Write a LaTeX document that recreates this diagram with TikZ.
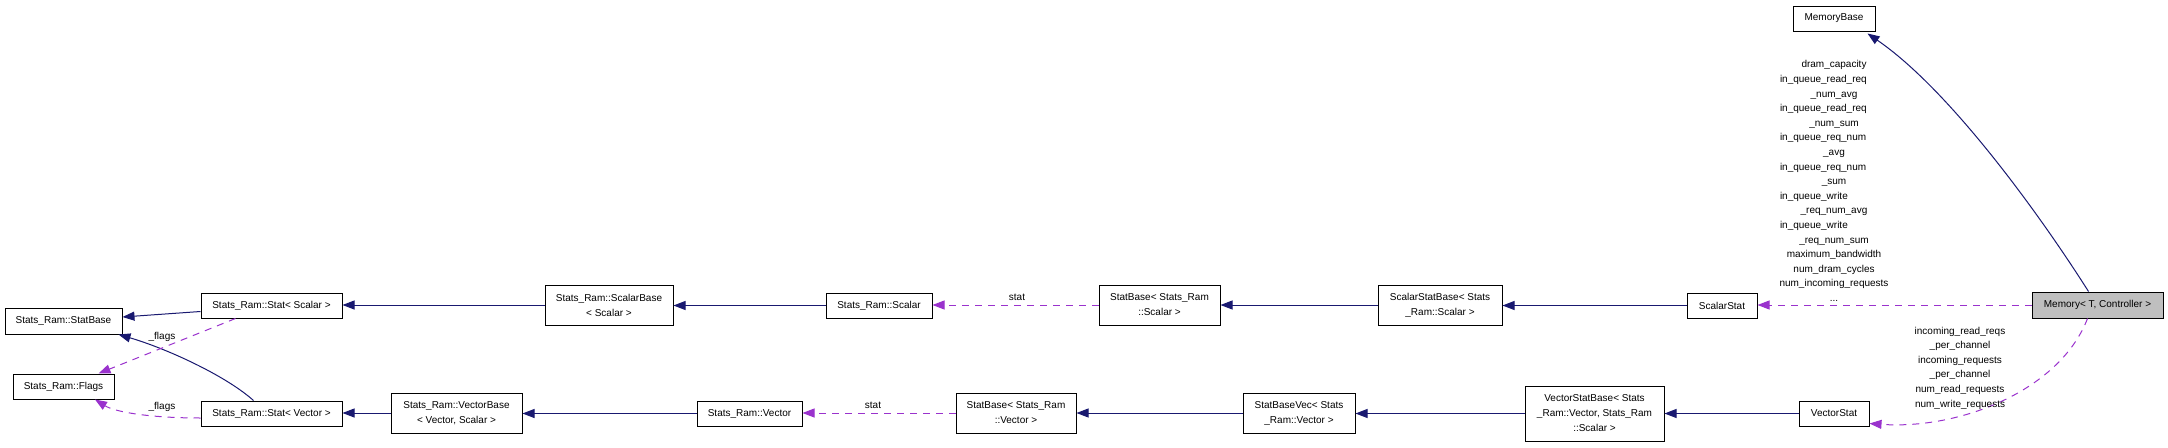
\documentclass[tikz,border=0pt]{standalone}
\usepackage{fontspec}
\setmainfont{Liberation Sans}
\usetikzlibrary{arrows.meta,calc}
\definecolor{inhblue}{HTML}{191970}
\definecolor{usepurple}{HTML}{9A32CD}
\definecolor{memgray}{HTML}{BFBFBF}
\begin{document}
\begin{tikzpicture}[x=1pt,y=-1pt,
  box/.style={draw=black, line width=1pt, inner sep=0pt, align=center,
    font=\fontsize{10}{15}\selectfont},
  inh/.style={draw=inhblue, line width=1pt, -{Triangle[length=12pt,width=9pt]}},
  use/.style={draw=usepurple, line width=1pt, dash pattern=on 7pt off 6pt,
    -{Triangle[length=12pt,width=9pt]}},
  elbl/.style={font=\fontsize{10}{14.6}\selectfont, inner sep=0pt, align=center}]
\useasboundingbox (0,0) rectangle (2168,447);

% nodes
\node[box, minimum width=117pt, minimum height=26pt] (statbase) at (63.5,321) {Stats\_Ram::StatBase};
\node[box, minimum width=141pt, minimum height=25pt] (statscalar) at (271.5,305.5) {Stats\_Ram::Stat< Scalar >};
\node[box, minimum width=101pt, minimum height=25pt] (flags) at (63.5,386.5) {Stats\_Ram::Flags};
\node[box, minimum width=141pt, minimum height=25pt] (statvector) at (271.5,413.5) {Stats\_Ram::Stat< Vector >};
\node[box, minimum width=131pt, minimum height=40pt] (vectorbase) at (456.5,413) {Stats\_Ram::VectorBase\\< Vector, Scalar >};
\node[box, minimum width=128pt, minimum height=40pt] (scalarbase) at (609,305) {Stats\_Ram::ScalarBase\\< Scalar >};
\node[box, minimum width=106pt, minimum height=25pt] (scalar) at (879,305.5) {Stats\_Ram::Scalar};
\node[box, minimum width=105pt, minimum height=25pt] (vector) at (749.5,413.5) {Stats\_Ram::Vector};
\node[box, minimum width=121pt, minimum height=40pt] (sbscalar) at (1159.5,305) {StatBase< Stats\_Ram\\::Scalar >};
\node[box, minimum width=120pt, minimum height=40pt] (sbvector) at (1016,413) {StatBase< Stats\_Ram\\::Vector >};
\node[box, minimum width=112pt, minimum height=40pt] (sbvec) at (1299,413) {StatBaseVec< Stats\\\_Ram::Vector >};
\node[box, minimum width=124pt, minimum height=40pt] (ssbase) at (1440,305) {ScalarStatBase< Stats\\\_Ram::Scalar >};
\node[box, minimum width=139pt, minimum height=55pt] (vsbase) at (1594.5,413.5) {VectorStatBase< Stats\\\_Ram::Vector, Stats\_Ram\\::Scalar >};
\node[box, minimum width=70pt, minimum height=25pt] (scalarstat) at (1722,305.5) {ScalarStat};
\node[box, minimum width=70pt, minimum height=25pt] (vectorstat) at (1834,413.5) {VectorStat};
\node[box, fill=memgray, minimum width=131pt, minimum height=26pt] (memory) at (2097.5,305) {Memory< T, Controller >};
\node[box, minimum width=82pt, minimum height=25pt] (memorybase) at (1834,18.5) {MemoryBase};

% inheritance edges
\draw[inh] ($(statscalar.west)+(0,6)$) -- ($(statbase.east)+(0,-4)$);
\draw[inh] ($(statvector.north west)+(53,0)$) .. controls (225,375) and (165,348) .. ($(statbase.south east)+(-4,0)$);
\draw[inh] (scalarbase.west) -- (statscalar.east |- scalarbase.west);
\draw[inh] (scalar.west) -- (scalarbase.east |- scalar.west);
\draw[inh] (ssbase.west) -- (sbscalar.east);
\draw[inh] (scalarstat.west) -- (ssbase.east |- scalarstat.west);
\draw[inh] (vectorstat.west) -- (vsbase.east |- vectorstat.west);
\draw[inh] (vsbase.west) -- (sbvec.east |- vsbase.west);
\draw[inh] (sbvec.west) -- (sbvector.east);
\draw[inh] (vector.west) -- (vectorbase.east |- vector.west);
\draw[inh] (vectorbase.west) -- (statvector.east |- vectorbase.west);
\draw[inh] ($(memory.north west)+(57,0)$) .. controls (2040,215) and (1950,90) .. ($(memorybase.south east)+(-8,2)$);

% usage edges
\draw[use] (sbscalar.west) -- (scalar.east |- sbscalar.west);
\draw[use] (sbvector.west) -- (vector.east |- sbvector.west);
\draw[use] (memory.west) -- (scalarstat.east |- memory.west);
\draw[use] ($(memory.south west)+(56,0)$) .. controls (2060,390) and (1960,430) .. ($(vectorstat.south east)+(0,-3)$);
\draw[use] ($(statscalar.south west)+(35,0)$) -- ($(flags.north east)+(-16,0)$);
\draw[use] ($(statvector.west)+(0,4.5)$) .. controls (150,418) and (115,412) .. ($(flags.south)+(31.5,0)$);

% edge labels
\node[elbl] (lstat1) at (1017,297) {stat};
\node[elbl] (lstat2) at (873,405) {stat};
\node[elbl] (lflags1) at (162,337) {\_flags};
\node[elbl] (lflags2) at (162,407) {\_flags};
\node[elbl] (lscalar) at (1834,181) {dram\_capacity\\
\makebox[108pt][l]{in\_queue\_read\_req}\\
\_num\_avg\\
\makebox[108pt][l]{in\_queue\_read\_req}\\
\_num\_sum\\
\makebox[108pt][l]{in\_queue\_req\_num}\\
\_avg\\
\makebox[108pt][l]{in\_queue\_req\_num}\\
\_sum\\
\makebox[108pt][l]{in\_queue\_write}\\
\_req\_num\_avg\\
\makebox[108pt][l]{in\_queue\_write}\\
\_req\_num\_sum\\
maximum\_bandwidth\\
num\_dram\_cycles\\
num\_incoming\_requests\\
...};
\node[elbl] (lvector) at (1960,368) {incoming\_read\_reqs\\
\_per\_channel\\
incoming\_requests\\
\_per\_channel\\
num\_read\_requests\\
num\_write\_requests};
\end{tikzpicture}
\end{document}
